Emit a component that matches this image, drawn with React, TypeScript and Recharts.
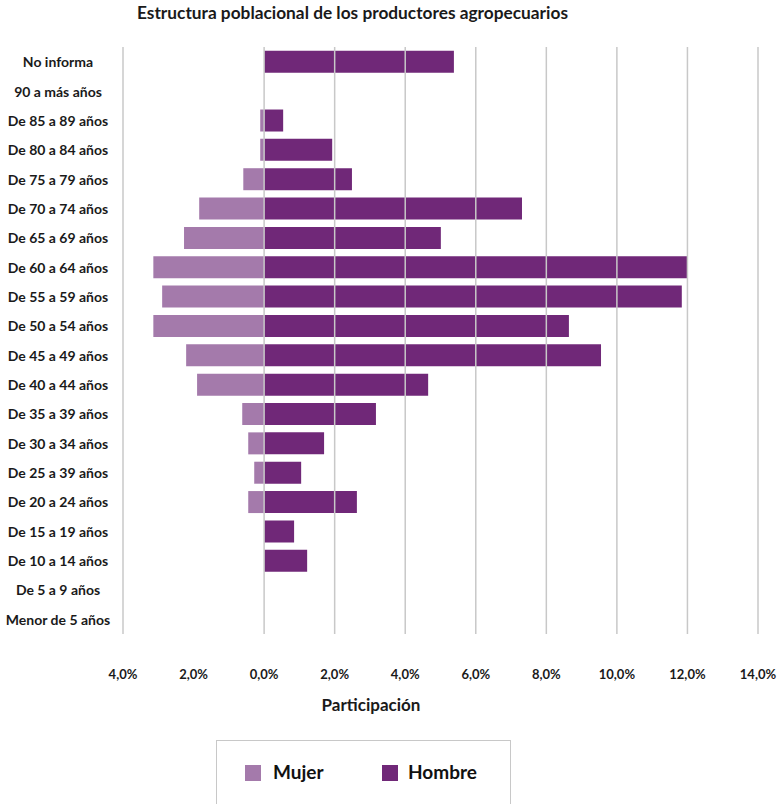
import { BarChart, Bar, XAxis, YAxis, ReferenceLine } from 'recharts';

const categories = [
  'No informa', '90 a más años', 'De 85 a 89 años', 'De 80 a 84 años', 'De 75 a 79 años',
  'De 70 a 74 años', 'De 65 a 69 años', 'De 60 a 64 años', 'De 55 a 59 años', 'De 50 a 54 años',
  'De 45 a 49 años', 'De 40 a 44 años', 'De 35 a 39 años', 'De 30 a 34 años', 'De 25 a 39 años',
  'De 20 a 24 años', 'De 15 a 19 años', 'De 10 a 14 años', 'De 5 a 9 años', 'Menor de 5 años',
];
// Mujer drawn to the left (negative)
const mujer = [0, 0, -0.11, -0.11, -0.59, -1.84, -2.27, -3.14, -2.89, -3.14, -2.21, -1.9, -0.62, -0.45, -0.28, -0.45, 0, 0, 0, 0];
const hombre = [5.38, 0, 0.54, 1.93, 2.49, 7.31, 5.01, 12.0, 11.84, 8.64, 9.55, 4.65, 3.17, 1.7, 1.05, 2.63, 0.85, 1.22, 0, 0];
const xTicks = [-4, -2, 0, 2, 4, 6, 8, 10, 12, 14];
const gridValues = [0, 2, 4, 6, 8, 10, 12, 14];

const data = categories.map((c, i) => ({ name: c, Mujer: mujer[i], Hombre: hombre[i] }));

const FONT = 'Lato, "Open Sans", sans-serif';
const MUJER_COLOR = '#a47aab';
const HOMBRE_COLOR = '#702878';
const GRID = '#c8c8c8';

const fmt = (v: number) => Math.abs(v).toFixed(1).replace('.', ',') + '%';

const CategoryTick = (props: any) => {
  const { y, payload } = props;
  return (
    <text x={58} y={y} textAnchor="middle" dominantBaseline="central"
      fontFamily={FONT} fontWeight={700} fontSize={14} fill="#1a1a1a">
      {payload.value}
    </text>
  );
};

const LegendBox = () => (
  <div style={{
    position: 'absolute', left: 216, top: 740, width: 295, height: 70,
    border: `1px solid ${GRID}`, boxSizing: 'border-box', fontFamily: FONT,
  }}>
    <div style={{ position: 'absolute', left: 28, top: 24, width: 16, height: 16, background: MUJER_COLOR }} />
    <div style={{ position: 'absolute', left: 56, top: 19, fontSize: 19, fontWeight: 700, color: '#111' }}>Mujer</div>
    <div style={{ position: 'absolute', left: 165, top: 24, width: 16, height: 16, background: HOMBRE_COLOR }} />
    <div style={{ position: 'absolute', left: 191, top: 19, fontSize: 19, fontWeight: 700, color: '#111' }}>Hombre</div>
  </div>
);

export default function App() {
  return (
    <div style={{ position: 'absolute', left: 0, top: 0, width: 779, height: 804, background: '#fff', overflow: 'hidden' }}>
      <div style={{
        position: 'absolute', left: 0, width: 705, top: 2, textAlign: 'center',
        fontFamily: FONT, fontWeight: 700, fontSize: 17.3, color: '#1a1a1a',
      }}>
        Estructura poblacional de los productores agropecuarios
      </div>
      <BarChart
        width={779}
        height={804}
        data={data}
        layout="vertical"
        stackOffset="sign"
        barCategoryGap="13%"
        margin={{ top: 47, right: 21, left: 0, bottom: 110 }}
      >
        {gridValues.map((v) => (
          <ReferenceLine key={v} x={v} stroke={GRID} strokeWidth={1.5} />
        ))}
        <XAxis
          type="number"
          domain={[-4, 14]}
          ticks={xTicks}
          tickFormatter={fmt}
          axisLine={false}
          tickLine={false}
          tickMargin={30}
          height={60}
          tick={{ fontFamily: FONT, fontWeight: 700, fontSize: 13, fill: '#1a1a1a' }}
        />
        <YAxis
          type="category"
          dataKey="name"
          width={123}
          axisLine={{ stroke: GRID, strokeWidth: 1.5 }}
          tickLine={false}
          tick={<CategoryTick />}
          interval={0}
        />
        <Bar dataKey="Mujer" stackId="a" fill={MUJER_COLOR} isAnimationActive={false} />
        <Bar dataKey="Hombre" stackId="a" fill={HOMBRE_COLOR} isAnimationActive={false} />
      </BarChart>
      <div style={{
        position: 'absolute', left: 271, width: 200, top: 694, textAlign: 'center',
        fontFamily: FONT, fontWeight: 700, fontSize: 17, color: '#1a1a1a',
      }}>
        Participación
      </div>
      <LegendBox />
    </div>
  );
}
